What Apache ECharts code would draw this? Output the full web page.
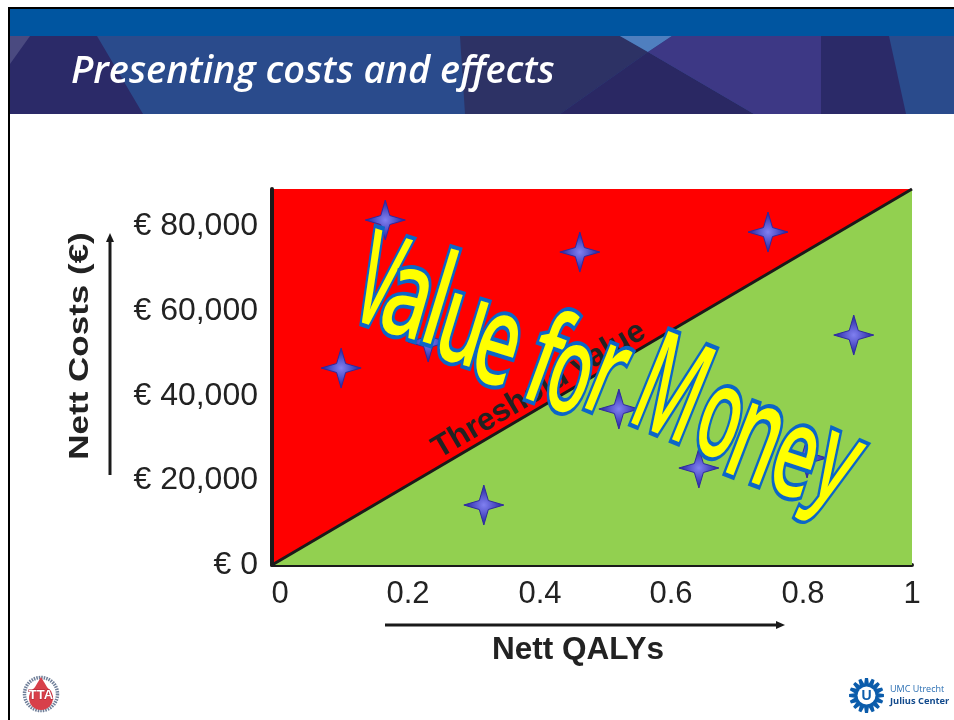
<!DOCTYPE html>
<html>
<head>
<meta charset="utf-8">
<style>html,body{margin:0;padding:0;background:#fff}#chart{width:954px;height:720px}</style>
<script src="https://cdn.jsdelivr.net/npm/echarts@6/dist/echarts.min.js"></script>
</head>
<body>
<div id="chart"></div>
<script>
// Cost-effectiveness plane: incremental QALYs against incremental costs.
const qalyTicks = [0, 0.2, 0.4, 0.6, 0.8, 1];
const costTicks = [0, 20000, 40000, 60000, 80000];
const costMax = 88900;
const thresholdLine = [[0, 0], [1, costMax]];
const simulatedQalys = [0.177, 0.481, 0.775, 0.909, 0.108, 0.244, 0.542, 0.331, 0.667, 0.836];
const simulatedCosts = [81560, 73990, 78720, 54370, 46570, 52720, 36880, 14180, 22930, 25300];
const qalyLabelShift = {0: 16, 0.2: 16, 0.4: 24, 0.6: 30, 0.8: 38, 1: 0};

// Banner facets: colour followed by corner points
const bannerFacets = [
  ['#2b2a68', [[10,36],[97,36],[143,114],[10,114]]],
  ['#4a4a80', [[10,36],[30,36],[10,64]]],
  ['#2d3265', [[460,36],[620,36],[648,52],[560,114],[465,114]]],
  ['#2a2863', [[648,52],[754,114],[560,114]]],
  ['#4f7fbf', [[620,36],[672,36],[648,52]]],
  ['#3d3885', [[672,36],[821,36],[821,114],[754,114],[648,52]]],
  ['#2b2a68', [[821,36],[889,36],[906,114],[821,114]]]
];

// Warped slogan: glyph, centre x, centre y, width, height, tilt in degrees
const sloganGlyphs = [
  ['V', 380, 279, 40, 94, 18],
  ['a', 406, 302, 38, 70, 16],
  ['l', 441, 296, 9, 98, 17],
  ['u', 462, 330, 36, 68, 17],
  ['e', 497, 349, 36, 72, 17],
  ['f', 550, 355, 30, 98, 20],
  ['o', 570, 378, 36, 70, 18],
  ['r', 609, 380, 24, 70, 22],
  ['M', 674, 386, 52, 100, 22],
  ['o', 720, 422, 36, 72, 18],
  ['n', 756, 443, 36, 76, 21],
  ['e', 795, 461, 36, 72, 18],
  ['y', 830, 481, 38, 96, 24]
];

const sloganFont = '500 140px "Noto Sans"';
const measureCtx = document.createElement('canvas').getContext('2d');
measureCtx.font = sloganFont;
measureCtx.textBaseline = 'middle';
measureCtx.textAlign = 'left';

const sloganElements = sloganGlyphs.map(function (g) {
  const m = measureCtx.measureText(g[0]);
  const gw = m.actualBoundingBoxRight + m.actualBoundingBoxLeft;
  const gh = m.actualBoundingBoxAscent + m.actualBoundingBoxDescent;
  return {
    type: 'group', x: g[1], y: g[2], z: 20,
    rotation: -g[5] * Math.PI / 180,
    scaleX: g[3] / gw, scaleY: g[4] / gh,
    children: [{
      type: 'text', z: 20,
      x: -(m.actualBoundingBoxRight - m.actualBoundingBoxLeft) / 2,
      y: -(m.actualBoundingBoxDescent - m.actualBoundingBoxAscent) / 2,
      style: {
        text: g[0], font: sloganFont, textAlign: 'left', textVerticalAlign: 'middle',
        fill: '#ffff00', stroke: '#0b66c8', lineWidth: 9
      }
    }]
  };
});

// Sunburst emblem points
function sunburst(cx, cy, rOut, rIn, n) {
  const pts = [];
  for (let i = 0; i < n; i++) {
    const a = i * 2 * Math.PI / n, w = Math.PI / n;
    pts.push([cx + rOut * Math.cos(a - w * 0.45), cy + rOut * Math.sin(a - w * 0.45)]);
    pts.push([cx + rOut * Math.cos(a + w * 0.45), cy + rOut * Math.sin(a + w * 0.45)]);
    pts.push([cx + rIn * Math.cos(a + w), cy + rIn * Math.sin(a + w)]);
  }
  return pts;
}

function arrow(x1, y1, x2, y2) {
  const vertical = x1 === x2, s = 4, l = 9;
  const dir = vertical ? Math.sign(y2 - y1) : Math.sign(x2 - x1);
  const head = vertical
    ? [[x2, y2], [x2 - s, y2 - dir * l], [x2 + s, y2 - dir * l]]
    : [[x2, y2], [x2 - dir * l, y2 - s], [x2 - dir * l, y2 + s]];
  return [
    {type: 'line', z: 3, shape: {x1: x1, y1: y1, x2: vertical ? x2 : x2 - dir * l, y2: vertical ? y2 - dir * l : y2},
     style: {stroke: '#1a1a1a', lineWidth: 3}},
    {type: 'polygon', z: 3, shape: {points: head}, style: {fill: '#1a1a1a'}}
  ];
}

const graphics = [
  {type: 'rect', z: 0, shape: {x: 10, y: 36, width: 944, height: 78}, style: {fill: '#2a4b8c'}},
  {type: 'rect', z: 0, shape: {x: 10, y: 9, width: 944, height: 27}, style: {fill: '#0055a0'}}
].concat(bannerFacets.map(function (f) {
  return {type: 'polygon', z: 0, shape: {points: f[1]}, style: {fill: f[0]}};
})).concat([
  {type: 'rect', z: 1, shape: {x: 8, y: 7, width: 946, height: 2}, style: {fill: '#000'}},
  {type: 'rect', z: 1, shape: {x: 8, y: 7, width: 2, height: 713}, style: {fill: '#000'}},
  {type: 'text', z: 2, x: 71, y: 72, style: {
    text: 'Presenting costs and effects', fill: '#fff',
    font: 'italic 600 38px "Open Sans"', textAlign: 'left', textVerticalAlign: 'middle'}},
  {type: 'text', z: 3, x: 539, y: 390, rotation: Math.atan(376 / 640), style: {
    text: 'Threshold value', fill: '#222',
    font: 'bold 31.5px "Liberation Sans"', textAlign: 'center', textVerticalAlign: 'middle'}},
  {type: 'text', z: 3, x: 80, y: 346, rotation: Math.PI / 2, scaleX: 1.25, style: {
    text: 'Nett Costs (€)', fill: '#222',
    font: 'bold 28px "Liberation Sans"', textAlign: 'center', textVerticalAlign: 'middle'}},
  {type: 'text', z: 3, x: 578, y: 650, style: {
    text: 'Nett QALYs', fill: '#222',
    font: 'bold 31.5px "Liberation Sans"', textAlign: 'center', textVerticalAlign: 'middle'}},
  // TTA emblem
  {type: 'circle', z: 3, shape: {cx: 41, cy: 694, r: 16.5}, style: {fill: '#fff', stroke: '#6f7f99', lineWidth: 3.5, lineDash: [1.5, 1]}},
  {type: 'circle', z: 3, shape: {cx: 41, cy: 698, r: 12}, style: {fill: '#d8404a'}},
  {type: 'polygon', z: 3, shape: {points: [[41, 677], [32, 692], [50, 692]]}, style: {fill: '#d8404a'}},
  {type: 'text', z: 4, x: 41, y: 695, style: {
    text: 'TTA', fill: '#fff', stroke: '#b02030', lineWidth: 1,
    font: 'bold 13px "Liberation Sans"', textAlign: 'center', textVerticalAlign: 'middle'}},
  // UMC emblem
  {type: 'polygon', z: 3, shape: {points: sunburst(866.5, 695.5, 17.5, 12, 16)}, style: {fill: '#0b5cab'}},
  {type: 'circle', z: 3, shape: {cx: 866.5, cy: 695.5, r: 9}, style: {fill: '#fff'}},
  {type: 'text', z: 4, x: 866.5, y: 696, style: {
    text: 'U', fill: '#0b5cab', font: 'bold 14px "Liberation Sans"', textAlign: 'center', textVerticalAlign: 'middle'}},
  {type: 'text', z: 3, x: 890, y: 689, style: {
    text: 'UMC Utrecht', fill: '#2b6fb3', font: '9px "Open Sans"', textAlign: 'left', textVerticalAlign: 'middle'}},
  {type: 'text', z: 3, x: 890, y: 701, style: {
    text: 'Julius Center', fill: '#124a8c', font: 'bold 9.3px "Open Sans"', textAlign: 'left', textVerticalAlign: 'middle'}}
]).concat(arrow(110, 475, 110, 233), arrow(385, 625, 785, 625), sloganElements);

const chart = echarts.init(document.getElementById('chart'), null, {renderer: 'canvas'});
chart.setOption({
  animation: false,
  backgroundColor: '#fff',
  grid: {left: 272, top: 189, width: 640, height: 376, show: true, backgroundColor: '#ff0000', borderWidth: 0},
  xAxis: {
    type: 'value', min: 0, max: 1, interval: 0.2,
    axisLine: {show: true, onZero: false, lineStyle: {color: '#1a1a1a', width: 4}},
    axisTick: {show: false}, splitLine: {show: false},
    axisLabel: {
      margin: 14, color: '#222', fontFamily: 'Liberation Sans', fontSize: 31,
      customValues: qalyTicks,
      formatter: function (v) {
        return '{s' + Math.round(v * 10) + '|' + v + '}';
      },
      rich: Object.fromEntries(qalyTicks.map(function (v) {
        return ['s' + Math.round(v * 10), {
          padding: [0, 0, 0, qalyLabelShift[v]], color: '#222',
          fontFamily: 'Liberation Sans', fontSize: 31
        }];
      }))
    }
  },
  yAxis: {
    type: 'value', min: 0, max: costMax, interval: 20000,
    axisLine: {show: true, onZero: false, lineStyle: {color: '#1a1a1a', width: 4}},
    axisTick: {show: false}, splitLine: {show: false},
    axisLabel: {
      margin: 14, color: '#222', fontFamily: 'Liberation Sans', fontSize: 32,
      customValues: costTicks,
      formatter: function (v) { return '€ ' + v.toLocaleString('en-US'); }
    }
  },
  series: [
    {
      type: 'line', z: 2, symbol: 'none', silent: true,
      data: thresholdLine,
      lineStyle: {color: '#1a1a1a', width: 3},
      areaStyle: {color: '#92d050', opacity: 1}
    },
    {
      type: 'scatter', z: 4, symbolSize: 40,
      symbol: 'path://M0,-20 L4.5,-4.5 L20,0 L4.5,4.5 L0,20 L-4.5,4.5 L-20,0 L-4.5,-4.5Z',
      data: simulatedQalys.map(function (q, i) { return [q, simulatedCosts[i]]; }),
      itemStyle: {
        opacity: 1,
        borderColor: '#2e2aa0', borderWidth: 1,
        color: {
          type: 'radial', x: 0.5, y: 0.5, r: 0.5,
          colorStops: [{offset: 0, color: '#8080f0'}, {offset: 0.4, color: '#5a5ad0'}, {offset: 1, color: '#20209a'}]
        }
      }
    }
  ],
  graphic: {elements: graphics}
});
</script>
</body>
</html>
